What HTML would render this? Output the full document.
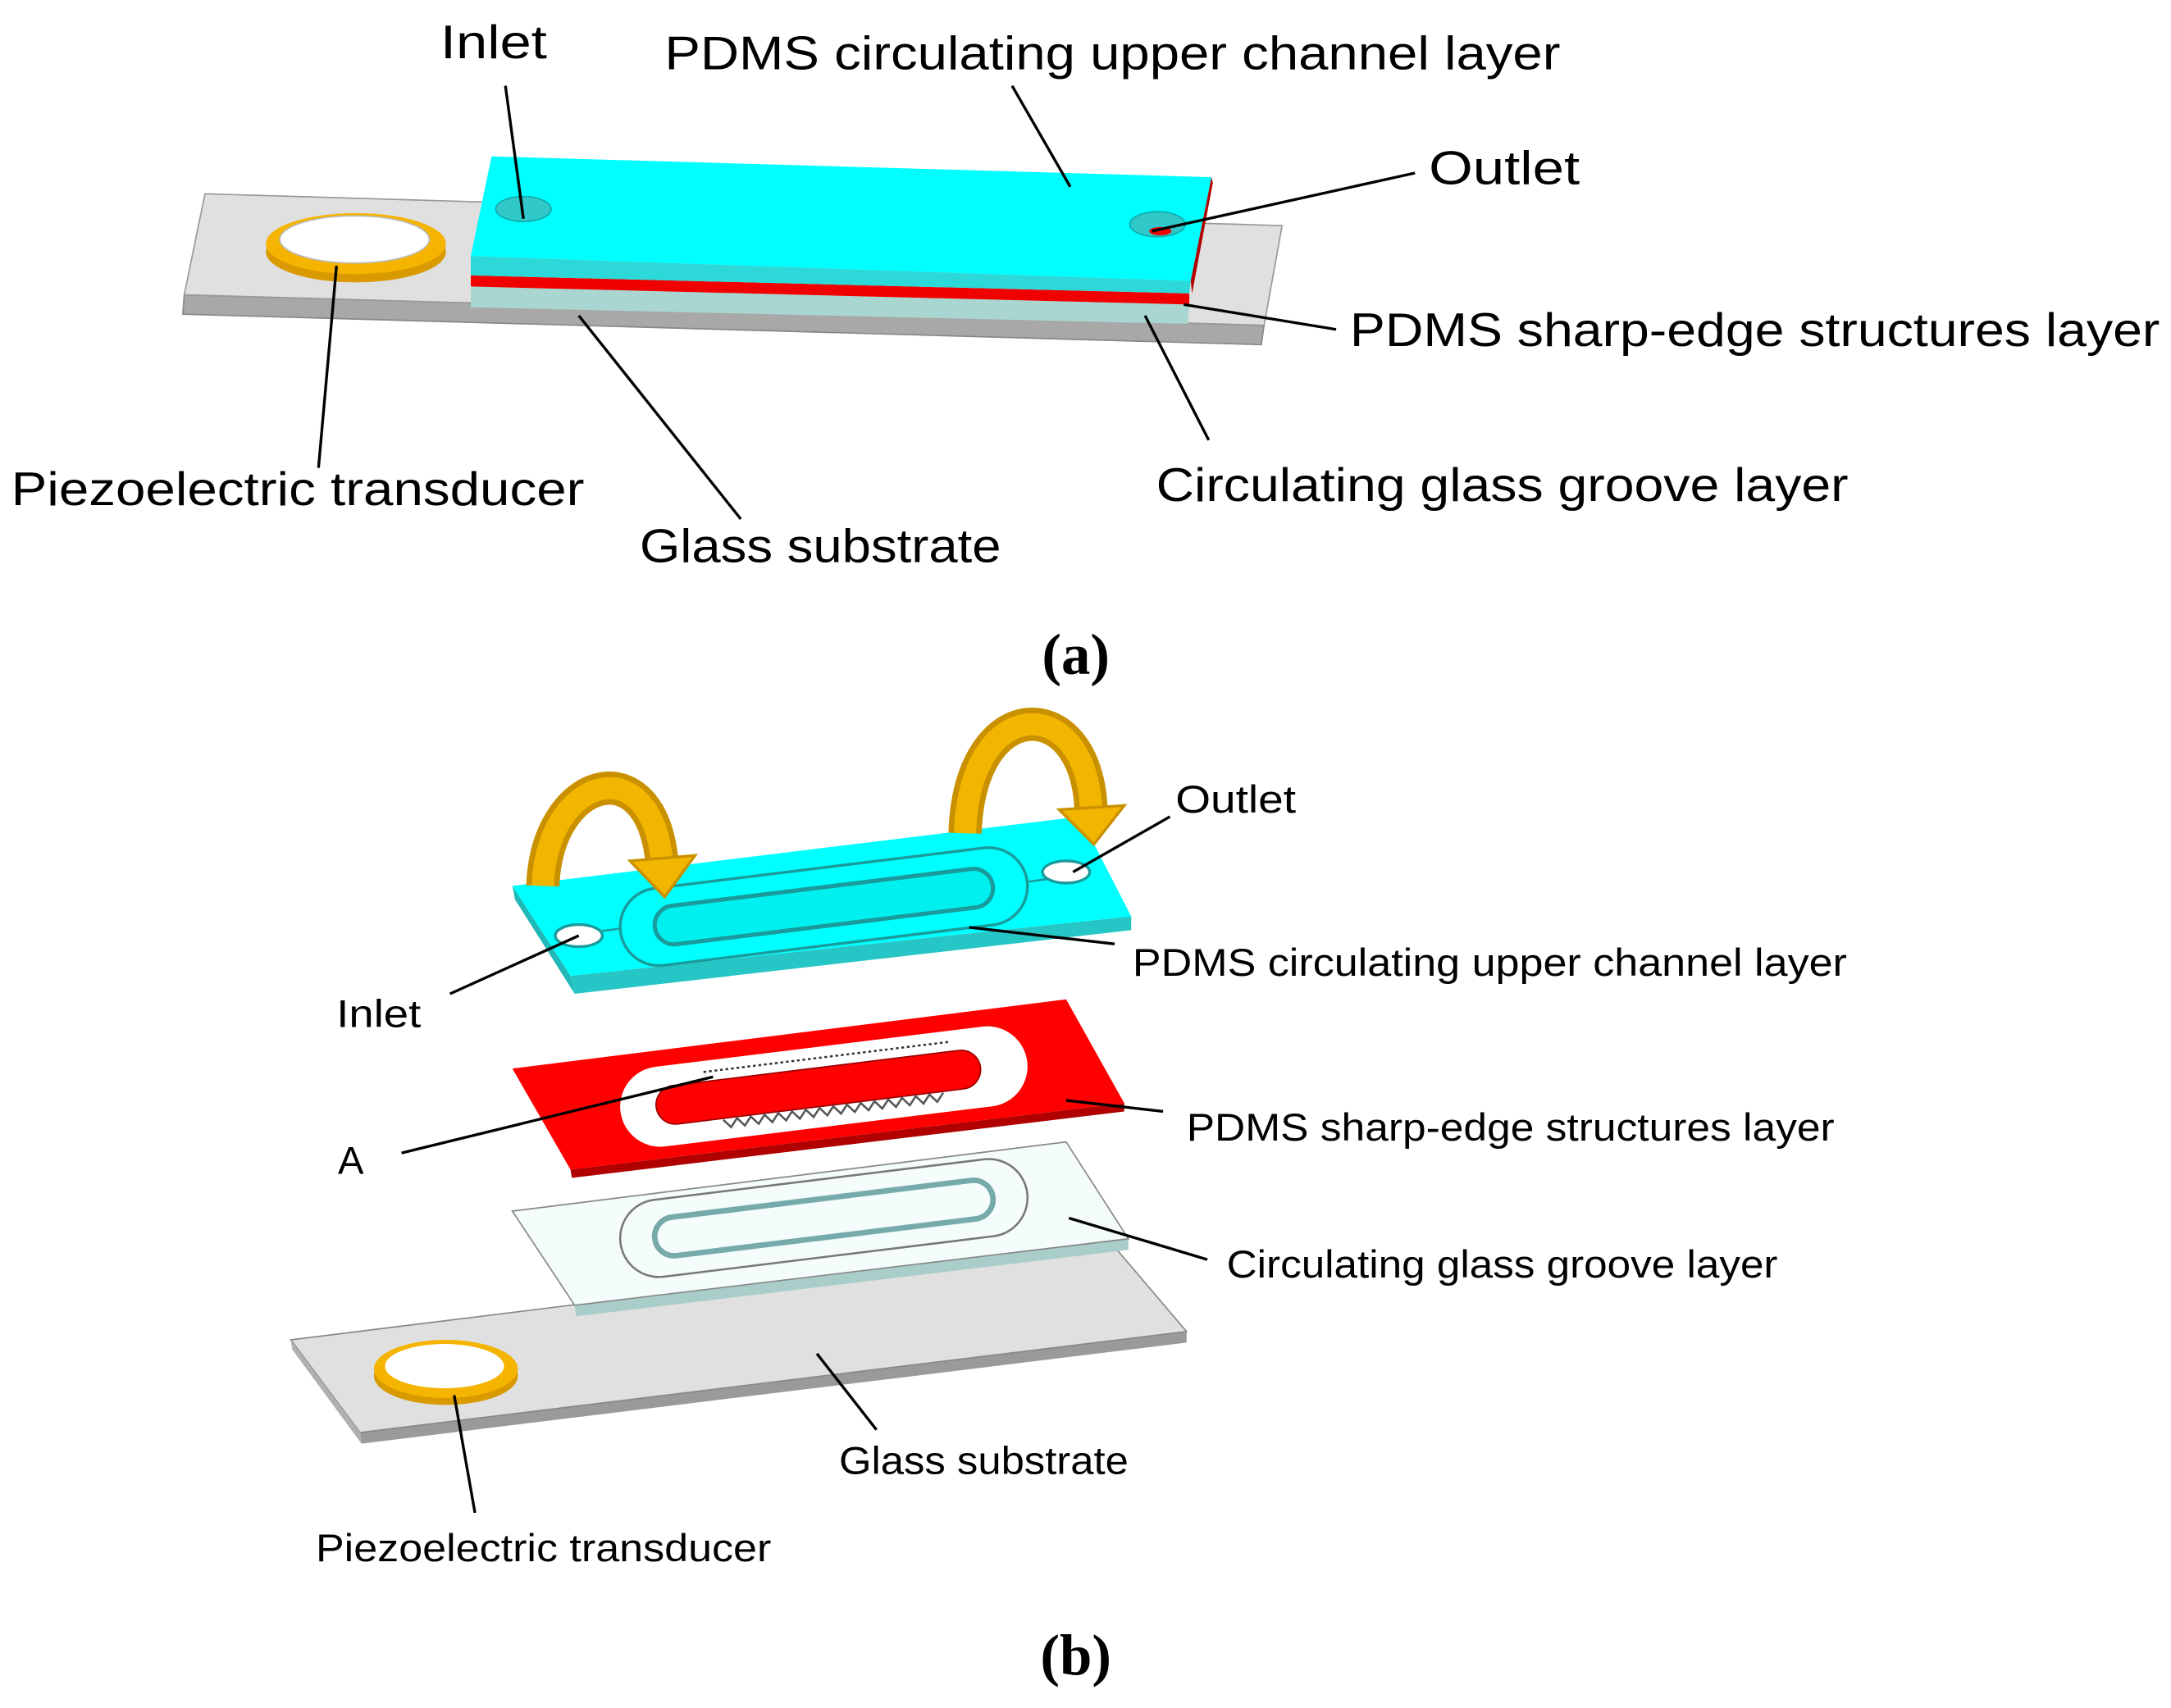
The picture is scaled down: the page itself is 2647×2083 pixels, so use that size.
<!DOCTYPE html>
<html><head><meta charset="utf-8"><style>
html,body{margin:0;padding:0;background:#fff;}
svg{display:block;}
text{font-family:"Liberation Sans",sans-serif;fill:#000;}
.s{font-family:"Liberation Serif",serif;font-weight:bold;}
</style></head><body>
<svg width="2647" height="2083" viewBox="0 0 1568 1234" xmlns="http://www.w3.org/2000/svg">
<rect width="1568" height="1234" fill="#fff"/>
<!-- ===== (a) ===== -->
<polygon points="133,213 913,235 911,249 132,227" fill="#a8a8a8" stroke="#888" stroke-width="1"/>
<polygon points="148,140 926,163 913,235 133,213" fill="#e0e0e0" stroke="#999" stroke-width="1"/>
<!-- piezo -->
<ellipse cx="257" cy="182" rx="65" ry="22" fill="#d99a00"/>
<ellipse cx="257" cy="176" rx="65" ry="22" fill="#f5b400"/>
<ellipse cx="256" cy="173" rx="54" ry="17" fill="#fff" stroke="#bbb" stroke-width="1"/>
<!-- stacked block -->
<polygon points="340,207 859,220 858,234 340,222" fill="#a9d6d0"/>
<polygon points="340,199 859,212 859,220 340,207" fill="#f00000"/>
<polygon points="340,185 860,203 859,212 340,199" fill="#2cd8d8"/>
<polygon points="355,113 875,128 860,203 340,185" fill="#00ffff"/>
<polygon points="875,128 876,132 861,212 860,203" fill="#b00000"/>
<ellipse cx="378" cy="151" rx="20" ry="9" fill="#30c8c8" stroke="#1aa" stroke-width="1"/>
<ellipse cx="836" cy="162" rx="20" ry="9" fill="#30c8c8" stroke="#1aa" stroke-width="1"/>
<ellipse cx="838" cy="167" rx="8" ry="3" fill="#e00"/>
<g stroke="#000" stroke-width="2" fill="none">
<line x1="365" y1="62" x2="378" y2="158"/>
<line x1="731" y1="62" x2="773" y2="135"/>
<line x1="1022" y1="125" x2="832" y2="167"/>
<line x1="965" y1="238" x2="855" y2="220"/>
<line x1="873" y1="318" x2="827" y2="228"/>
<line x1="535" y1="375" x2="418" y2="228"/>
<line x1="230" y1="338" x2="243" y2="192"/>
</g>
<g font-size="34">
<text x="318" y="42" textLength="77" lengthAdjust="spacingAndGlyphs">Inlet</text>
<text x="480" y="50" textLength="647" lengthAdjust="spacingAndGlyphs">PDMS circulating upper channel layer</text>
<text x="1032" y="133" textLength="109" lengthAdjust="spacingAndGlyphs">Outlet</text>
<text x="975" y="250" textLength="585" lengthAdjust="spacingAndGlyphs">PDMS sharp-edge structures layer</text>
<text x="8" y="365" textLength="414" lengthAdjust="spacingAndGlyphs">Piezoelectric transducer</text>
<text x="835" y="362" textLength="500" lengthAdjust="spacingAndGlyphs">Circulating glass groove layer</text>
<text x="462" y="406" textLength="261" lengthAdjust="spacingAndGlyphs">Glass substrate</text>
</g>
<text class="s" x="777" y="487" font-size="42" text-anchor="middle">(a)</text>
<!-- ===== (b) ===== -->
<!-- glass substrate -->
<polygon points="260,1035 857,962 857,970 261,1043" fill="#9a9a9a"/>
<polygon points="210,968 800,895 857,962 260,1035" fill="#e0e0e0" stroke="#888" stroke-width="1"/>
<polygon points="210,968 260,1035 261,1043 211,975" fill="#b0b0b0"/>
<ellipse cx="322" cy="994" rx="52" ry="21" fill="#d99a00"/>
<ellipse cx="322" cy="989" rx="52" ry="21" fill="#f5b400"/>
<ellipse cx="321" cy="987" rx="43" ry="16" fill="#fff"/>
<!-- glass groove -->
<polygon points="415,943 815,895 815,903 416,951" fill="#a9cdc8"/>
<polygon points="370,875 770,825 815,895 415,943" fill="#f5fcfc" stroke="#888" stroke-width="1"/>
<g transform="rotate(-7 595 880)">
<rect x="447" y="852" width="296" height="56" rx="28" fill="none" stroke="#777" stroke-width="1.5"/>
<rect x="472" y="866" width="246" height="28" rx="14" fill="none" stroke="#7aa" stroke-width="4"/>
</g>
<!-- red layer -->
<polygon points="412,845 812,797 812,803 413,851" fill="#b00000"/>
<polygon points="370,772 770,722 812,797 412,845" fill="#ff0000"/>
<g transform="rotate(-7 595 785)">
<rect x="447" y="756" width="296" height="58" rx="29" fill="#fff"/>
<rect x="473" y="771" width="236" height="28" rx="14" fill="#ff0000" stroke="#900" stroke-width="1"/>
<path d="M520,800 l5,6 l5,-6 l5,6 l5,-6 l5,6 l5,-6 l5,6 l5,-6 l5,6 l5,-6 l5,6 l5,-6 l5,6 l5,-6 l5,6 l5,-6 l5,6 l5,-6 l5,6 l5,-6 l5,6 l5,-6 l5,6 l5,-6 l5,6 l5,-6 l5,6 l5,-6 l5,6 l5,-6 l5,6 l5,-6" fill="none" stroke="#555" stroke-width="1.5"/>
<line x1="510" y1="764" x2="690" y2="764" stroke="#333" stroke-width="1.5" stroke-dasharray="2,2"/>
</g>
<!-- cyan layer -->
<polygon points="412,705 817,662 817,672 415,718" fill="#26c6c6"/>
<polygon points="370,640 780,590 817,662 412,705" fill="#00ffff"/>
<polygon points="370,640 412,705 415,718 372,650" fill="#20b8b8"/>
<g transform="rotate(-7 595 655)">
<rect x="447" y="627" width="296" height="56" rx="28" fill="none" stroke="#1a9a9a" stroke-width="2"/>
<rect x="472" y="641" width="246" height="28" rx="14" fill="#00f0f0" stroke="#1a9a9a" stroke-width="3"/>
</g>
<line x1="432" y1="673" x2="447" y2="671" stroke="#1a9a9a" stroke-width="1.5"/>
<line x1="743" y1="637" x2="757" y2="635" stroke="#1a9a9a" stroke-width="1.5"/>
<ellipse cx="418" cy="676" rx="17" ry="8" fill="#fff" stroke="#1a9a9a" stroke-width="2"/>
<ellipse cx="770" cy="630" rx="17" ry="8" fill="#fff" stroke="#1a9a9a" stroke-width="2"/>
<!-- arrows -->
<path d="M392,640 C395,560 470,540 478,622" fill="none" stroke="#c99000" stroke-width="24"/>
<path d="M392,640 C395,560 470,540 478,622" fill="none" stroke="#f2b500" stroke-width="16"/>
<polygon points="455,622 502,618 480,648" fill="#f2b500" stroke="#c99000" stroke-width="2"/>
<path d="M697,602 C700,500 785,500 788,585" fill="none" stroke="#c99000" stroke-width="24"/>
<path d="M697,602 C700,500 785,500 788,585" fill="none" stroke="#f2b500" stroke-width="16"/>
<polygon points="765,585 812,582 790,610" fill="#f2b500" stroke="#c99000" stroke-width="2"/>
<g stroke="#000" stroke-width="2" fill="none">
<line x1="845" y1="590" x2="775" y2="630"/>
<line x1="805" y1="682" x2="700" y2="670"/>
<line x1="325" y1="718" x2="418" y2="676"/>
<line x1="840" y1="803" x2="770" y2="795"/>
<line x1="290" y1="833" x2="515" y2="778"/>
<line x1="872" y1="910" x2="772" y2="880"/>
<line x1="633" y1="1033" x2="590" y2="978"/>
<line x1="343" y1="1093" x2="328" y2="1008"/>
</g>
<g font-size="28">
<text x="849" y="587" textLength="87" lengthAdjust="spacingAndGlyphs">Outlet</text>
<text x="818" y="705" textLength="516" lengthAdjust="spacingAndGlyphs">PDMS circulating upper channel layer</text>
<text x="243" y="742" textLength="61" lengthAdjust="spacingAndGlyphs">Inlet</text>
<text x="857" y="824" textLength="468" lengthAdjust="spacingAndGlyphs">PDMS sharp-edge structures layer</text>
<text x="244" y="848">A</text>
<text x="886" y="923" textLength="398" lengthAdjust="spacingAndGlyphs">Circulating glass groove layer</text>
<text x="606" y="1065" textLength="209" lengthAdjust="spacingAndGlyphs">Glass substrate</text>
<text x="228" y="1128" textLength="329" lengthAdjust="spacingAndGlyphs">Piezoelectric transducer</text>
</g>
<text class="s" x="777" y="1210" font-size="42" text-anchor="middle">(b)</text>
</svg>
</body></html>
